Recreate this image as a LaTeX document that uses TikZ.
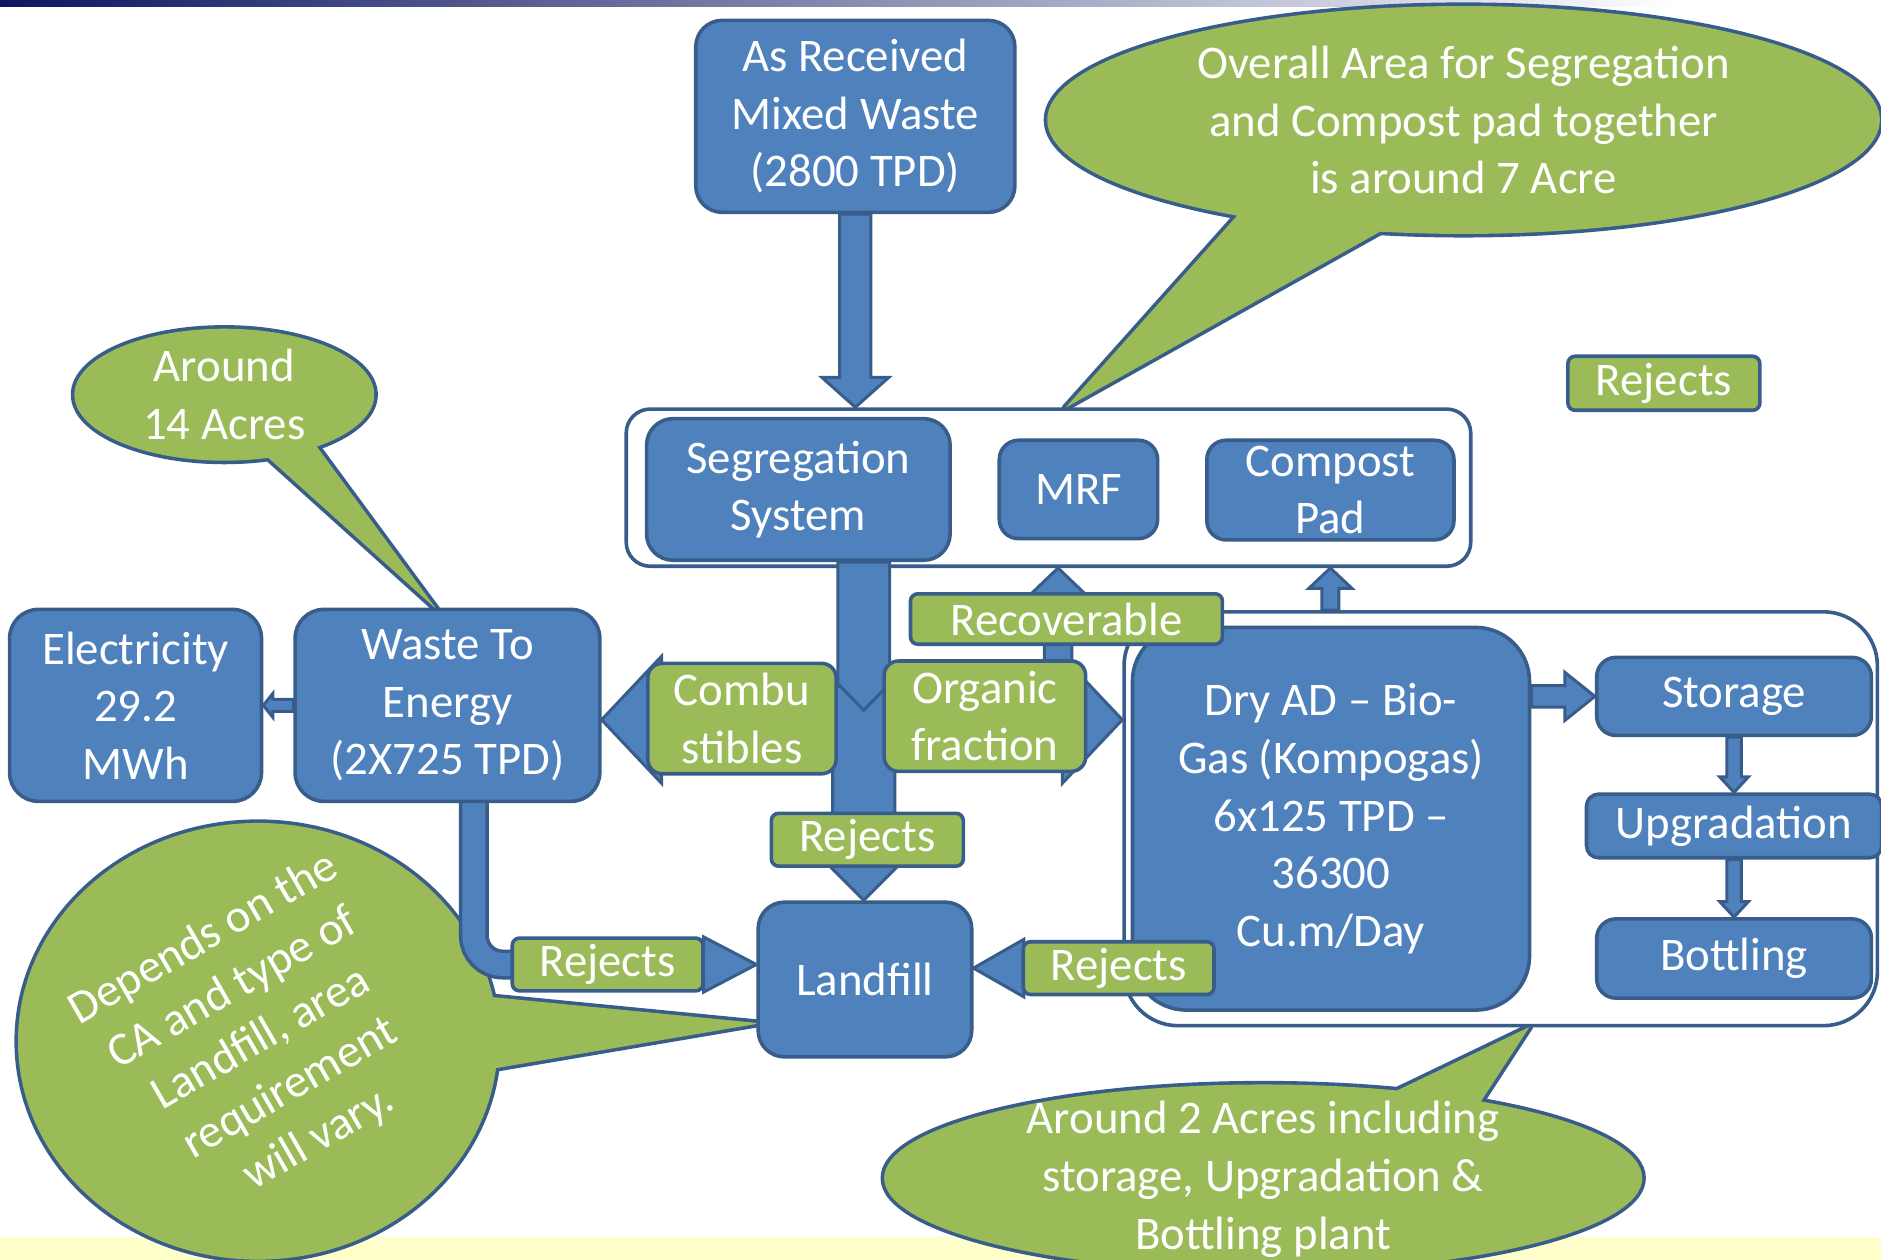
\documentclass[tikz,border=0pt]{standalone}
\usepackage{fontspec}
\setmainfont{Carlito}
\usetikzlibrary{calc}
\definecolor{boxblue}{HTML}{4F81BD}
\definecolor{edgeblue}{HTML}{385D8A}
\definecolor{leafgreen}{HTML}{9BBB59}
\definecolor{bandyellow}{HTML}{FFFFCC}
\definecolor{navy}{HTML}{0D1660}
\pgfdeclarelayer{bg}
\pgfdeclarelayer{flow}
\pgfsetlayers{bg,flow,main}
\tikzset{
  box/.style={draw=edgeblue, fill=boxblue, line width=3pt, rounded corners=16pt, text=white, align=center, inner sep=0pt},
  tag/.style={box, fill=leafgreen, rounded corners=6pt},
  frame/.style={draw=edgeblue, fill=white, line width=3pt, inner sep=0pt},
  blockarrow/.style={draw=edgeblue, fill=boxblue, line width=2.5pt, line join=miter},
  bubbleedge/.style={draw=edgeblue, line width=6pt, line join=round},
  bubblefill/.style={fill=leafgreen}
}
% block arrow: from, tip, half shaft, half head, head length
\newcommand{\blockarrow}[5]{%
  \coordinate (hb) at ($(#2)!#5!(#1)$);
  \draw[blockarrow] ($(#1)!#3!90:(hb)$) -- ($(hb)!#3!-90:(#1)$) -- ($(hb)!#4!-90:(#1)$) -- (#2)
    -- ($(hb)!#4!90:(#1)$) -- ($(hb)!#3!90:(#1)$) -- ($(#1)!#3!-90:(hb)$) -- cycle;}

\begin{document}
\begin{tikzpicture}[x=1pt, y=-1pt, font=\fontsize{39}{48}\selectfont]
\useasboundingbox (0,0) rectangle (1568,1050);

\begin{pgfonlayer}{bg}
\fill[bandyellow] (0,1031) rectangle (1568,1050);
\shade[left color=navy, right color=white] (0,0) rectangle (1400,5);
% callouts
\draw[bubbleedge] (1220,100) ellipse [x radius=347, y radius=95];
\draw[bubbleedge] (1040,170) -- (888,340) -- (1165,185) -- cycle;
\fill[bubblefill] (1220,100) ellipse [x radius=347, y radius=95];
\fill[bubblefill] (1040,170) -- (888,340) -- (1165,185) -- cycle;

\draw[bubbleedge] (187,329) ellipse [x radius=125, y radius=55];
\draw[bubbleedge] (213,372) -- (364,508) -- (258,364) -- cycle;
\fill[bubblefill] (187,329) ellipse [x radius=125, y radius=55];
\fill[bubblefill] (213,372) -- (364,508) -- (258,364) -- cycle;

\draw[bubbleedge] (215,868) ellipse [x radius=200, y radius=182];
\draw[bubbleedge] (398,830) -- (634,853) -- (398,893) -- cycle;
\fill[bubblefill] (215,868) ellipse [x radius=200, y radius=182];
\fill[bubblefill] (398,830) -- (634,853) -- (398,893) -- cycle;

\draw[bubbleedge] (1053,982) ellipse [x radius=316, y radius=78];
\draw[bubbleedge] (1150,916) -- (1275,856) -- (1230,925) -- cycle;
\fill[bubblefill] (1053,982) ellipse [x radius=316, y radius=78];
\fill[bubblefill] (1150,916) -- (1275,856) -- (1230,925) -- cycle;
% containers
\node[frame, rounded corners=20pt, minimum width=704pt, minimum height=131pt] (segarea) at (874,406.5) {};
\node[frame, rounded corners=45pt, minimum width=628pt, minimum height=345pt] (adarea) at (1251,682.5) {};
\end{pgfonlayer}

\node[text=white, align=center] (overall) at (1220,100) {Overall Area for Segregation\\and Compost pad together\\is around 7 Acre};
\node[text=white, align=center] (wtearea) at (187,329) {Around\\14 Acres};
\node[text=white, align=center, rotate=30] (fillarea) at (218,866) {Depends on the\\CA and type of\\Landfill, area\\requirement\\will vary.};
\node[text=white, align=center] (adnote) at (1053,983) {Around 2 Acres including\\storage, Upgradation \&\\Bottling plant};

\node[box, rounded corners=22pt, minimum width=266pt, minimum height=160pt] (mixed) at (713,97) {As Received\\Mixed Waste\\(2800 TPD)};
\node[box, rounded corners=22pt, minimum width=253pt, minimum height=118pt] (seg) at (665.5,408) {Segregation\\System};
\node[box, minimum width=132pt, minimum height=82pt] (mrf) at (899,408) {MRF};
\node[box, minimum width=206pt, minimum height=83pt] (compost) at (1109,408.5) {Compost\\Pad};
\node[box, rounded corners=24pt, minimum width=210pt, minimum height=160pt] (elec) at (113,588) {Electricity\\29.2\\MWh};
\node[box, rounded corners=24pt, minimum width=254pt, minimum height=160pt] (wte) at (373,588) {Waste To\\Energy\\(2X725 TPD)};
\node[box, rounded corners=22pt, minimum width=178pt, minimum height=129pt] (landfill) at (721,816.5) {Landfill};
\node[box, rounded corners=45pt, minimum width=331pt, minimum height=319pt] (dryad) at (1109.5,682.5) {Dry AD -- Bio-\\Gas (Kompogas)\\6x125 TPD --\\36300\\Cu.m/Day};
\node[box, minimum width=229pt, minimum height=65pt] (storage) at (1445.5,580.5) {Storage};
\node[box, rounded corners=10pt, minimum width=246pt, minimum height=53pt] (upgr) at (1445.5,688.5) {Upgradation};
\node[box, minimum width=229pt, minimum height=66pt] (bottling) at (1445.5,799) {Bottling};

\node[tag, rounded corners=12pt, minimum width=157pt, minimum height=92pt] (comb) at (618.5,599) {Combu\\stibles};
\node[tag, rounded corners=12pt, minimum width=168pt, minimum height=92pt] (org) at (821,597) {Organic\\fraction};
\node[tag, minimum width=260pt, minimum height=42pt] (recov) at (889,516) {Recoverable};
\node[tag, minimum width=160pt, minimum height=44pt] (rejC) at (723,700) {Rejects};
\node[tag, minimum width=159pt, minimum height=44pt] (rejL) at (506.5,804) {Rejects};
\node[tag, minimum width=159pt, minimum height=44pt] (rejR) at (932.5,807) {Rejects};
\node[tag, minimum width=160pt, minimum height=45pt] (rejTop) at (1387,319.5) {Rejects};

\begin{pgfonlayer}{flow}
\coordinate (mixtip) at (mixed.south |- segarea.north);
\blockarrow{mixed.south}{mixtip}{13pt}{28pt}{25pt}
\coordinate (hub) at (720,600);
\coordinate (combtip) at (hub -| wte.east);
\coordinate (orgtip) at (hub -| adarea.west);
\blockarrow{hub}{combtip}{25pt}{53pt}{50pt}
\blockarrow{hub}{orgtip}{25pt}{53pt}{50pt}
\coordinate (trunk) at (720,572);
\coordinate (filltip) at (trunk |- landfill.north);
\blockarrow{trunk}{filltip}{26pt}{30pt}{30pt}
\coordinate (segfoot) at (seg.south -| trunk);
\coordinate (vtip) at (720,592);
\blockarrow{segfoot}{vtip}{21.5pt}{21.5pt}{22pt}
\coordinate (recfoot) at (882,560);
\coordinate (rectip) at (recfoot |- segarea.south);
\blockarrow{recfoot}{rectip}{11.5pt}{23pt}{22pt}
\coordinate (cpfoot) at (compost.south |- adarea.north);
\coordinate (cptip) at (compost.south |- segarea.south);
\blockarrow{cpfoot}{cptip}{7pt}{18pt}{17pt}
\coordinate (adout) at (dryad.east |- storage.west);
\blockarrow{adout}{storage.west}{9pt}{20pt}{25pt}
\blockarrow{storage.south}{upgr.north}{6pt}{12pt}{13pt}
\blockarrow{upgr.south}{bottling.north}{6pt}{12pt}{13pt}
\blockarrow{wte.west}{elec.east}{5pt}{10pt}{8pt}
\coordinate (rrtip) at (rejR.center -| landfill.east);
\blockarrow{rejR.center}{rrtip}{12pt}{24pt}{42pt}
\coordinate (wtefoot) at ([xshift=22pt]wte.south);
\draw[edgeblue, line width=25pt, rounded corners=24pt] (wtefoot) |- (rejL.center);
\draw[boxblue, line width=19pt, rounded corners=24pt] (wtefoot) |- (rejL.center);
\coordinate (rltip) at (rejL.center -| landfill.west);
\blockarrow{rejL.center}{rltip}{12pt}{23pt}{44pt}
\end{pgfonlayer}
\end{tikzpicture}
\end{document}
